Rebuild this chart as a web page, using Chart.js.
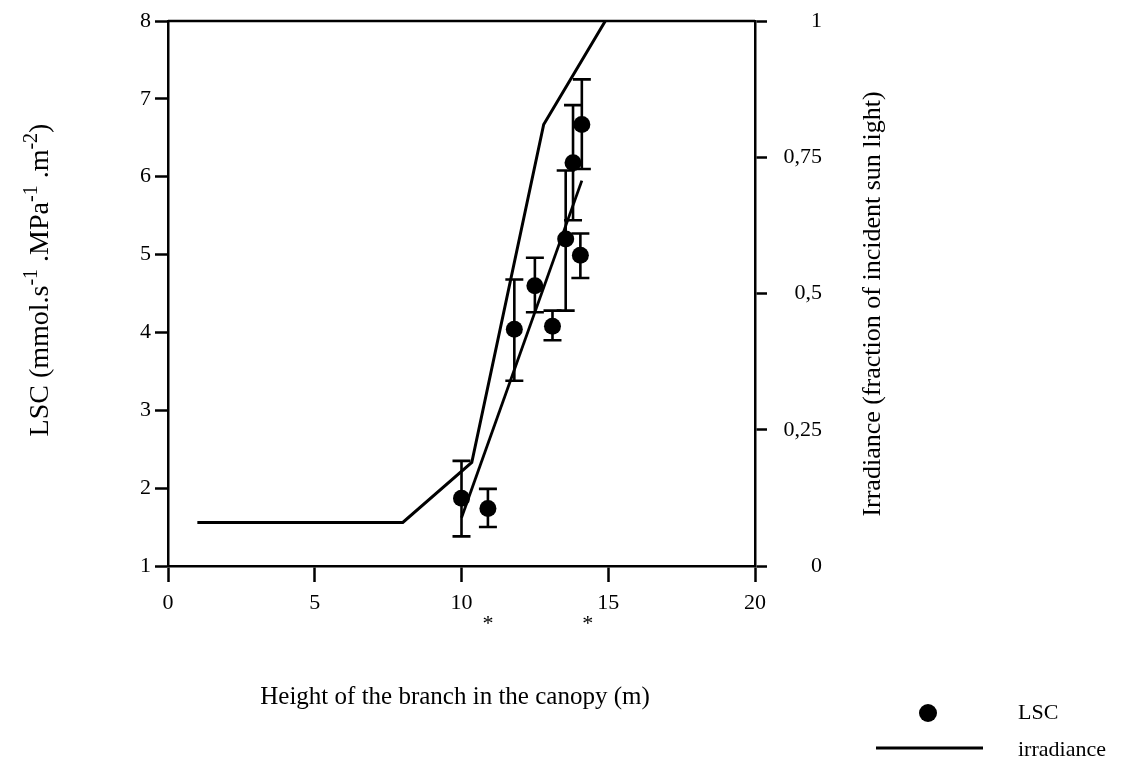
<!DOCTYPE html>
<html>
<head>
<meta charset="utf-8">
<title>LSC and irradiance vs branch height</title>
<script src="https://cdn.jsdelivr.net/npm/chart.js@4/dist/chart.umd.min.js"></script>
<style>
  html, body { margin: 0; padding: 0; background: #fff; }
  #wrap { width: 1123px; height: 767px; }
</style>
</head>
<body>
<div id="wrap"><canvas id="c" width="1123" height="767"></canvas></div>
<script>
// Leaf-specific conductivity per branch (height in m, mean and error range)
const lscHeight = [10.0, 10.9, 11.8, 12.5, 13.1, 13.55, 13.8, 14.05, 14.1];
const lscValue  = [1.87, 1.74, 4.04, 4.60, 4.08, 5.20, 6.18, 4.99, 6.67];
const lscLow    = [1.38, 1.50, 3.38, 4.26, 3.90, 4.28, 5.44, 4.70, 6.10];
const lscHigh   = [2.35, 1.99, 4.68, 4.96, 4.28, 6.08, 6.92, 5.27, 7.25];

// Linear fit through the LSC values
const fitHeight = [10.0, 14.1];
const fitValue  = [1.62, 5.95];

// Irradiance profile through the canopy (fraction of incident light)
const irrHeight = [1, 8, 10.35, 12.8, 14.9];
const irrValue  = [0.08, 0.08, 0.19, 0.81, 1.0];

// Heights flagged as significant
const starHeight = [10.9, 14.3];

// Tick labels
const xTickLabels  = ['0', '5', '10', '15', '20'];
const yTickLabels  = ['1', '2', '3', '4', '5', '6', '7', '8'];
const y2TickLabels = ['0', '0,25', '0,5', '0,75', '1'];

const FONT = "'Liberation Serif', 'Times New Roman', serif";
const INK = '#000';

const pts = (xs, ys) => xs.map((x, i) => ({ x: x, y: ys[i] }));

// Error bars, top frame line, axis titles, significance marks and legend
const decorations = {
  id: 'decorations',
  afterDatasetsDraw(chart) {
    const { ctx, chartArea: a, scales } = chart;
    const xs = scales.x, ys = scales.y;
    ctx.save();
    ctx.strokeStyle = INK;
    ctx.fillStyle = INK;

    // error bars
    ctx.lineWidth = 2.6;
    const cap = 9;
    lscHeight.forEach((h, i) => {
      const px = xs.getPixelForValue(h);
      const lo = ys.getPixelForValue(lscLow[i]);
      const hi = ys.getPixelForValue(lscHigh[i]);
      ctx.beginPath();
      ctx.moveTo(px, lo); ctx.lineTo(px, hi);
      ctx.moveTo(px - cap, lo); ctx.lineTo(px + cap, lo);
      ctx.moveTo(px - cap, hi); ctx.lineTo(px + cap, hi);
      ctx.stroke();
    });

    // top frame line
    ctx.lineWidth = 2.5;
    ctx.beginPath();
    ctx.moveTo(a.left, a.top); ctx.lineTo(a.right, a.top);
    ctx.stroke();

    const big = '22px ' + FONT;
    const title = '25px ' + FONT;

    // significance marks
    ctx.font = big;
    ctx.textAlign = 'center';
    ctx.textBaseline = 'middle';
    starHeight.forEach(h => {
      ctx.fillText('*', xs.getPixelForValue(h), 624);
    });

    // x axis title
    ctx.font = title;
    ctx.fillText('Height of the branch in the canopy (m)', 455, 697);

    // left axis title with superscripts
    const parts = [
      ['LSC (mmol.s', false], ['-1', true], [' .MPa', false], ['-1', true],
      [' .m', false], ['-2', true], [')', false]
    ];
    const leftTitle = '28px ' + FONT;
    const small = '20px ' + FONT;
    let total = 0;
    parts.forEach(p => { ctx.font = p[1] ? small : leftTitle; total += ctx.measureText(p[0]).width; });
    ctx.save();
    ctx.translate(38, 280);
    ctx.rotate(-Math.PI / 2);
    ctx.textAlign = 'left';
    ctx.textBaseline = 'alphabetic';
    let cx = -total / 2;
    parts.forEach(p => {
      ctx.font = p[1] ? small : leftTitle;
      ctx.fillText(p[0], cx, p[1] ? -1 : 10);
      cx += ctx.measureText(p[0]).width;
    });
    ctx.restore();

    // right axis title
    ctx.save();
    ctx.font = '26px ' + FONT;
    ctx.translate(873, 304);
    ctx.rotate(-Math.PI / 2);
    ctx.textAlign = 'center';
    ctx.textBaseline = 'middle';
    ctx.fillText('Irradiance (fraction of incident sun light)', 0, 0);
    ctx.restore();

    // legend
    ctx.beginPath();
    ctx.arc(928, 713, 9, 0, Math.PI * 2);
    ctx.fill();
    ctx.lineWidth = 3;
    ctx.beginPath();
    ctx.moveTo(876, 748); ctx.lineTo(983, 748);
    ctx.stroke();
    ctx.font = big;
    ctx.textAlign = 'left';
    ctx.textBaseline = 'middle';
    ctx.fillText('LSC', 1018, 713);
    ctx.fillText('irradiance', 1018, 750);

    ctx.restore();
  }
};

const axisGrid = (len) => ({
  drawOnChartArea: false,
  drawTicks: true,
  tickLength: len,
  tickWidth: 2.5,
  tickColor: INK,
  color: INK
});
const axisBorder = { display: true, color: INK, width: 2.5 };
const tickFont = { family: FONT, size: 22 };

// vertical axes: fixed width, no extra room reserved for end labels
const fixVertical = (w) => (s) => {
  s.width = w;
  s.paddingTop = 0;
  s.paddingBottom = 0;
};

new Chart(document.getElementById('c'), {
  type: 'scatter',
  data: {
    datasets: [
      {
        label: 'LSC',
        data: pts(lscHeight, lscValue),
        yAxisID: 'y',
        showLine: false,
        pointRadius: 8.5,
        pointBackgroundColor: INK,
        pointBorderColor: INK,
        pointBorderWidth: 0,
        order: 1
      },
      {
        label: 'LSC fit',
        data: pts(fitHeight, fitValue),
        yAxisID: 'y',
        showLine: true,
        borderColor: INK,
        borderWidth: 2.8,
        pointRadius: 0,
        tension: 0,
        order: 2
      },
      {
        label: 'irradiance',
        data: pts(irrHeight, irrValue),
        yAxisID: 'y2',
        showLine: true,
        borderColor: INK,
        borderWidth: 3,
        pointRadius: 0,
        tension: 0,
        order: 3
      }
    ]
  },
  options: {
    responsive: false,
    animation: false,
    devicePixelRatio: 1,
    layout: { padding: { left: 0, right: 301, top: 21, bottom: 0 } },
    plugins: { legend: { display: false }, tooltip: { enabled: false }, title: { display: false } },
    scales: {
      x: {
        type: 'linear',
        min: 0, max: 20,
        ticks: {
          stepSize: 5, color: INK, font: tickFont, padding: 8, maxRotation: 0,
          callback: (v) => xTickLabels[Math.round(v / 5)]
        },
        grid: axisGrid(16),
        border: axisBorder,
        afterFit: (s) => { s.height = 767 - 566; }
      },
      y: {
        type: 'linear',
        position: 'left',
        min: 1, max: 8,
        ticks: {
          stepSize: 1, color: INK, font: tickFont, padding: 4,
          callback: (v) => yTickLabels[Math.round(v - 1)]
        },
        grid: axisGrid(13),
        border: axisBorder,
        afterFit: fixVertical(168)
      },
      y2: {
        type: 'linear',
        position: 'right',
        min: 0, max: 1,
        ticks: {
          stepSize: 0.25, color: INK, font: tickFont, padding: 14, crossAlign: 'far',
          callback: (v) => y2TickLabels[Math.round(v * 4)]
        },
        grid: axisGrid(12),
        border: axisBorder,
        afterFit: fixVertical(822 - 755)
      }
    }
  },
  plugins: [decorations]
});
</script>
</body>
</html>
